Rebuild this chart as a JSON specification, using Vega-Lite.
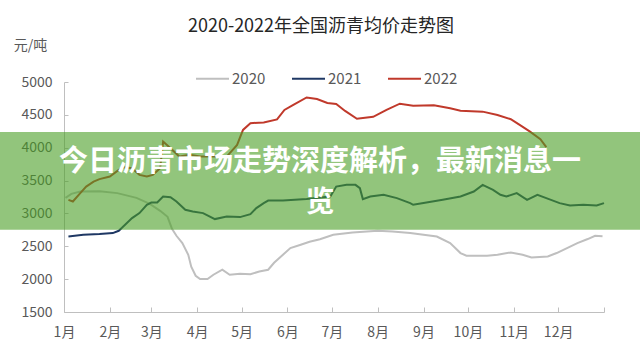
{
  "$schema": "https://vega.github.io/schema/vega-lite/v6.json",
  "autosize": "none",
  "width": 540,
  "height": 230,
  "padding": {"left": 64, "top": 82, "right": 36, "bottom": 50},
  "background": "white",
  "config": {
    "font": "Noto Sans CJK SC",
    "view": {"stroke": null},
    "axis": {"grid": false, "labelOverlap": false, "labelFlush": false, "domainColor": "#bfbfbf", "tickColor": "#bfbfbf", "labelColor": "#595959", "labelFontSize": 14},
    "axisY": {"format": "d", "tickSize": -4, "labelPadding": 16},
    "axisX": {"tickSize": -5, "labelPadding": 18}
  },
  "title": {
    "text": "2020-2022年全国沥青均价走势图",
    "fontSize": 18,
    "fontWeight": "normal",
    "color": "#262626",
    "anchor": "middle",
    "frame": "group",
    "dx": -13,
    "offset": 2
  },
  "datasets": {
    "prices": [
      {"year": "2020", "day": 1, "price": 3237}, {"year": "2020", "day": 5, "price": 3298}, {"year": "2020", "day": 11, "price": 3333}, {"year": "2020", "day": 24, "price": 3336}, {"year": "2020", "day": 36, "price": 3309}, {"year": "2020", "day": 49, "price": 3237}, {"year": "2020", "day": 58, "price": 3146}, {"year": "2020", "day": 65, "price": 3040}, {"year": "2020", "day": 70, "price": 2949}, {"year": "2020", "day": 73, "price": 2766}, {"year": "2020", "day": 76, "price": 2660}, {"year": "2020", "day": 80, "price": 2549}, {"year": "2020", "day": 84, "price": 2371}, {"year": "2020", "day": 86, "price": 2189}, {"year": "2020", "day": 89, "price": 2052}, {"year": "2020", "day": 92, "price": 2002}, {"year": "2020", "day": 97, "price": 2002}, {"year": "2020", "day": 101, "price": 2067}, {"year": "2020", "day": 107, "price": 2143}, {"year": "2020", "day": 112, "price": 2067}, {"year": "2020", "day": 119, "price": 2082}, {"year": "2020", "day": 126, "price": 2075}, {"year": "2020", "day": 132, "price": 2117}, {"year": "2020", "day": 138, "price": 2143}, {"year": "2020", "day": 142, "price": 2249}, {"year": "2020", "day": 148, "price": 2371}, {"year": "2020", "day": 153, "price": 2473}, {"year": "2020", "day": 160, "price": 2523}, {"year": "2020", "day": 166, "price": 2569}, {"year": "2020", "day": 173, "price": 2607}, {"year": "2020", "day": 182, "price": 2675}, {"year": "2020", "day": 195, "price": 2710}, {"year": "2020", "day": 212, "price": 2736}, {"year": "2020", "day": 222, "price": 2725}, {"year": "2020", "day": 234, "price": 2701}, {"year": "2020", "day": 252, "price": 2649}, {"year": "2020", "day": 261, "price": 2549}, {"year": "2020", "day": 268, "price": 2397}, {"year": "2020", "day": 272, "price": 2356}, {"year": "2020", "day": 286, "price": 2356}, {"year": "2020", "day": 293, "price": 2371}, {"year": "2020", "day": 302, "price": 2406}, {"year": "2020", "day": 310, "price": 2371}, {"year": "2020", "day": 316, "price": 2330}, {"year": "2020", "day": 327, "price": 2345}, {"year": "2020", "day": 333, "price": 2397}, {"year": "2020", "day": 340, "price": 2473}, {"year": "2020", "day": 347, "price": 2549}, {"year": "2020", "day": 354, "price": 2610}, {"year": "2020", "day": 359, "price": 2660}, {"year": "2020", "day": 364, "price": 2652},
      {"year": "2021", "day": 3, "price": 2649}, {"year": "2021", "day": 13, "price": 2675}, {"year": "2021", "day": 24, "price": 2686}, {"year": "2021", "day": 33, "price": 2701}, {"year": "2021", "day": 37, "price": 2736}, {"year": "2021", "day": 39, "price": 2777}, {"year": "2021", "day": 46, "price": 2929}, {"year": "2021", "day": 51, "price": 3005}, {"year": "2021", "day": 56, "price": 3131}, {"year": "2021", "day": 59, "price": 3166}, {"year": "2021", "day": 63, "price": 3166}, {"year": "2021", "day": 67, "price": 3257}, {"year": "2021", "day": 72, "price": 3248}, {"year": "2021", "day": 76, "price": 3181}, {"year": "2021", "day": 82, "price": 3055}, {"year": "2021", "day": 87, "price": 3029}, {"year": "2021", "day": 94, "price": 3005}, {"year": "2021", "day": 102, "price": 2914}, {"year": "2021", "day": 110, "price": 2953}, {"year": "2021", "day": 119, "price": 2944}, {"year": "2021", "day": 126, "price": 2990}, {"year": "2021", "day": 130, "price": 3081}, {"year": "2021", "day": 135, "price": 3157}, {"year": "2021", "day": 138, "price": 3196}, {"year": "2021", "day": 148, "price": 3196}, {"year": "2021", "day": 164, "price": 3218}, {"year": "2021", "day": 180, "price": 3257}, {"year": "2021", "day": 184, "price": 3409}, {"year": "2021", "day": 191, "price": 3435}, {"year": "2021", "day": 197, "price": 3435}, {"year": "2021", "day": 200, "price": 3385}, {"year": "2021", "day": 202, "price": 3218}, {"year": "2021", "day": 207, "price": 3257}, {"year": "2021", "day": 216, "price": 3283}, {"year": "2021", "day": 225, "price": 3233}, {"year": "2021", "day": 234, "price": 3157}, {"year": "2021", "day": 236, "price": 3131}, {"year": "2021", "day": 243, "price": 3157}, {"year": "2021", "day": 256, "price": 3207}, {"year": "2021", "day": 268, "price": 3257}, {"year": "2021", "day": 277, "price": 3333}, {"year": "2021", "day": 283, "price": 3435}, {"year": "2021", "day": 290, "price": 3359}, {"year": "2021", "day": 295, "price": 3283}, {"year": "2021", "day": 299, "price": 3257}, {"year": "2021", "day": 306, "price": 3309}, {"year": "2021", "day": 313, "price": 3207}, {"year": "2021", "day": 320, "price": 3283}, {"year": "2021", "day": 326, "price": 3233}, {"year": "2021", "day": 335, "price": 3157}, {"year": "2021", "day": 342, "price": 3120}, {"year": "2021", "day": 351, "price": 3131}, {"year": "2021", "day": 360, "price": 3120}, {"year": "2021", "day": 365, "price": 3157},
      {"year": "2022", "day": 3, "price": 3207}, {"year": "2022", "day": 6, "price": 3181}, {"year": "2022", "day": 11, "price": 3309}, {"year": "2022", "day": 15, "price": 3409}, {"year": "2022", "day": 20, "price": 3485}, {"year": "2022", "day": 24, "price": 3522}, {"year": "2022", "day": 31, "price": 3561}, {"year": "2022", "day": 37, "price": 3663}, {"year": "2022", "day": 41, "price": 3704}, {"year": "2022", "day": 46, "price": 3689}, {"year": "2022", "day": 51, "price": 3587}, {"year": "2022", "day": 56, "price": 3561}, {"year": "2022", "day": 60, "price": 3587}, {"year": "2022", "day": 65, "price": 3689}, {"year": "2022", "day": 67, "price": 4093}, {"year": "2022", "day": 72, "price": 3993}, {"year": "2022", "day": 78, "price": 3865}, {"year": "2022", "day": 85, "price": 3891}, {"year": "2022", "day": 92, "price": 3865}, {"year": "2022", "day": 101, "price": 3865}, {"year": "2022", "day": 110, "price": 3865}, {"year": "2022", "day": 117, "price": 4043}, {"year": "2022", "day": 121, "price": 4271}, {"year": "2022", "day": 126, "price": 4373}, {"year": "2022", "day": 135, "price": 4385}, {"year": "2022", "day": 144, "price": 4430}, {"year": "2022", "day": 149, "price": 4575}, {"year": "2022", "day": 155, "price": 4651}, {"year": "2022", "day": 164, "price": 4765}, {"year": "2022", "day": 171, "price": 4740}, {"year": "2022", "day": 178, "price": 4680}, {"year": "2022", "day": 184, "price": 4666}, {"year": "2022", "day": 190, "price": 4560}, {"year": "2022", "day": 198, "price": 4440}, {"year": "2022", "day": 209, "price": 4470}, {"year": "2022", "day": 218, "price": 4575}, {"year": "2022", "day": 227, "price": 4670}, {"year": "2022", "day": 236, "price": 4640}, {"year": "2022", "day": 250, "price": 4646}, {"year": "2022", "day": 261, "price": 4601}, {"year": "2022", "day": 268, "price": 4564}, {"year": "2022", "day": 283, "price": 4549}, {"year": "2022", "day": 293, "price": 4499}, {"year": "2022", "day": 302, "price": 4434}, {"year": "2022", "day": 308, "price": 4347}, {"year": "2022", "day": 315, "price": 4245}, {"year": "2022", "day": 322, "price": 4130}, {"year": "2022", "day": 326, "price": 4010}
    ]
  },
  "layer": [
    {
      "data": {"name": "prices"},
      "mark": {"type": "line", "strokeWidth": 2, "interpolate": "linear"},
      "encoding": {
        "x": {
          "field": "day", "type": "quantitative",
          "scale": {"domain": [0, 365], "nice": false, "zero": false},
          "axis": {
            "title": null,
            "values": [0, 31, 59, 90, 120, 151, 181, 212, 243, 273, 304, 334, 365],
            "labelExpr": "datum.value >= 365 ? '' : (indexof([0,31,59,90,120,151,181,212,243,273,304,334], datum.value) + 1) + '月'"
          }
        },
        "y": {
          "field": "price", "type": "quantitative",
          "scale": {"domain": [1500, 5000], "nice": false, "zero": false},
          "axis": {
            "title": "元/吨",
            "titleAngle": 0,
            "titleX": -34,
            "titleY": -37,
            "titleAlign": "center",
            "titleBaseline": "middle",
            "titleFontWeight": "normal",
            "titleFontSize": 14,
            "titleColor": "#595959",
            "values": [1500, 2000, 2500, 3000, 3500, 4000, 4500, 5000],
            "labelOverlap": false
          }
        },
        "color": {
          "field": "year", "type": "nominal",
          "scale": {"domain": ["2020", "2021", "2022"], "range": ["#bfbfbf", "#1f3864", "#c0392b"]},
          "legend": {
            "title": null,
            "orient": "none",
            "direction": "horizontal",
            "legendX": 131,
            "legendY": -21,
            "symbolType": "stroke",
            "symbolSize": 1089,
            "symbolStrokeWidth": 2,
            "labelFontSize": 15,
            "labelColor": "#595959",
            "labelOffset": 2,
            "columnPadding": 22
          }
        }
      }
    },
    {
      "data": {"values": [{}]},
      "mark": {"type": "rect", "color": "#4a9f25", "opacity": 0.6, "clip": false},
      "encoding": {
        "x": {"datum": -50, "type": "quantitative"},
        "x2": {"datum": 410},
        "y": {"datum": 4241, "type": "quantitative", "axis": {"labelOverlap": false, "values": [1500, 2000, 2500, 3000, 3500, 4000, 4500, 5000]}},
        "y2": {"datum": 2751}
      }
    },
    {
      "data": {"values": [{}]},
      "mark": {"type": "text", "color": "white", "fontSize": 29, "fontWeight": "bold", "align": "center", "baseline": "middle", "clip": false},
      "encoding": {
        "x": {"datum": 173, "type": "quantitative"},
        "y": {"datum": 3785, "type": "quantitative", "axis": {"labelOverlap": false, "values": [1500, 2000, 2500, 3000, 3500, 4000, 4500, 5000]}},
        "text": {"value": "今日沥青市场走势深度解析，最新消息一"}
      }
    },
    {
      "data": {"values": [{}]},
      "mark": {"type": "text", "color": "white", "fontSize": 29, "fontWeight": "bold", "align": "center", "baseline": "middle", "clip": false},
      "encoding": {
        "x": {"datum": 173, "type": "quantitative"},
        "y": {"datum": 3161, "type": "quantitative", "axis": {"labelOverlap": false, "values": [1500, 2000, 2500, 3000, 3500, 4000, 4500, 5000]}},
        "text": {"value": "览"}
      }
    }
  ]
}
